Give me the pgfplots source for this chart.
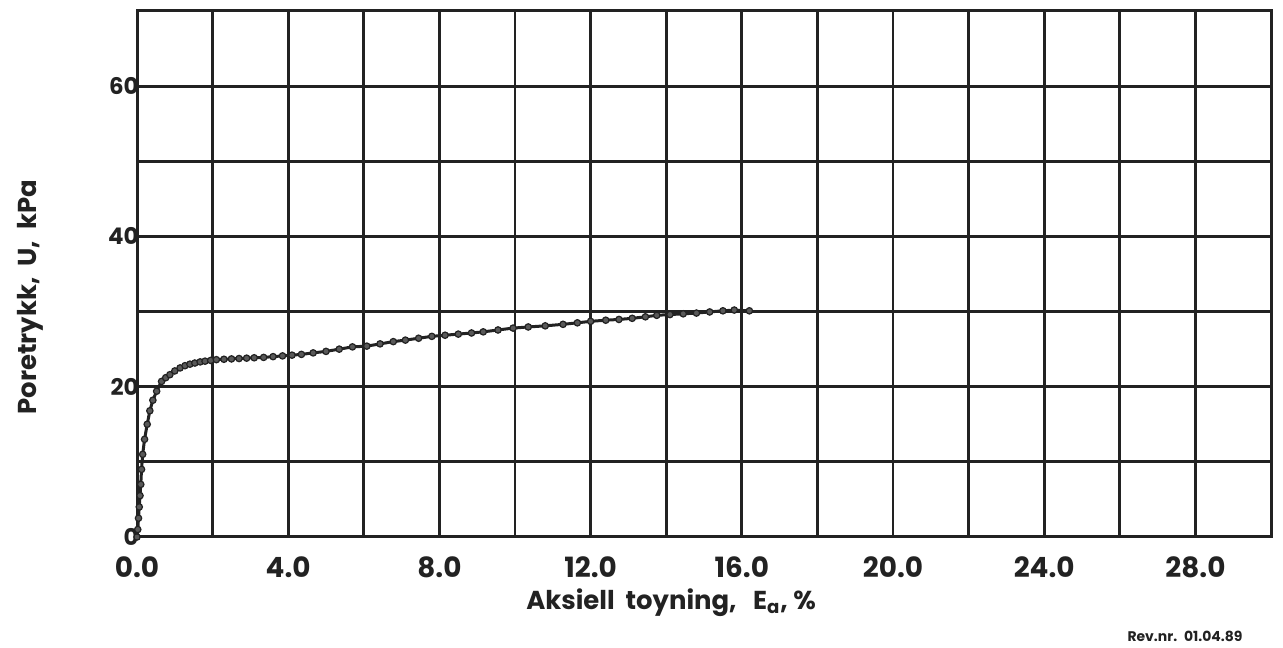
\documentclass[border=0pt]{standalone}
\usepackage{pgfplots}
\pgfplotsset{compat=1.18}
\usepackage{fontspec}
\setmainfont{Poppins}
\usetikzlibrary{calc}
\definecolor{ink}{HTML}{222222}
\begin{document}
\begin{tikzpicture}
\begin{axis}[
  name=ax,
  scale only axis,
  width=567bp, height=263bp,
  xmin=0, xmax=30, ymin=0, ymax=70,
  axis line style={ink, line width=1.5bp},
  grid=major,
  grid style={ink, line width=1.4bp},
  xtick={0,2,...,30},
  xticklabels={0.0,,4.0,,8.0,,12.0,,16.0,,20.0,,24.0,,28.0,},
  ytick={0,10,...,70},
  yticklabels={0,,20,,40,,60,,},
  major tick length=0pt,
  tick style={draw=none},
  xticklabel style={font=\fontsize{14}{14}\selectfont\bfseries, text=ink, anchor=north, yshift=-6.5bp},
  yticklabel style={font=\fontsize{11.5}{12}\selectfont\bfseries, text=ink, anchor=east, xshift=1.5bp, inner sep=0.5bp},
  xlabel={Aksiell \ toyning, \ \ E\textsubscript{a}, \%},
  xlabel style={font=\fontsize{13}{13}\selectfont\bfseries, text=ink, at={(axis description cs:0.471,-0.125)}, anchor=center},
  ylabel={Poretrykk, \ U, \ kPa},
  ylabel style={font=\fontsize{13}{13}\selectfont\bfseries, text=ink, at={(axis description cs:-0.0944,0.456)}, anchor=center},
  clip=false,
]
\addplot[ink, line width=1.5bp, mark=*, mark size=1.6bp, mark options={fill=gray!70!black, draw=ink, line width=0.6bp}] coordinates {
(0,0)(0.02,1)(0.04,2.5)(0.06,4)(0.08,5.5)(0.1,7)(0.12,9)(0.15,11)(0.2,13)(0.27,15)(0.34,16.8)(0.42,18.2)(0.52,19.4)(0.65,20.7)(0.76,21.2)(0.87,21.6)(1.0,22.1)(1.14,22.5)(1.27,22.8)(1.4,23.0)(1.53,23.15)(1.67,23.3)(1.8,23.4)(1.95,23.5)(2.1,23.6)(2.3,23.65)(2.5,23.7)(2.7,23.75)(2.9,23.8)(3.1,23.85)(3.35,23.9)(3.6,24.0)(3.85,24.1)(4.1,24.2)(4.35,24.3)(4.66,24.5)(5.0,24.7)(5.35,25.0)(5.7,25.3)(6.08,25.4)(6.43,25.7)(6.78,26.0)(7.1,26.2)(7.45,26.45)(7.8,26.7)(8.15,26.85)(8.5,27.0)(8.85,27.15)(9.16,27.3)(9.55,27.55)(9.95,27.8)(10.35,27.95)(10.8,28.1)(11.27,28.3)(11.65,28.5)(12.0,28.7)(12.4,28.85)(12.75,28.95)(13.1,29.1)(13.45,29.3)(13.75,29.5)(14.1,29.6)(14.45,29.7)(14.8,29.8)(15.15,29.95)(15.5,30.1)(15.8,30.2)(16.2,30.1)
};
\end{axis}
\node[font=\fontsize{7}{8}\selectfont\bfseries, text=ink, anchor=center] at ($(ax.south east)+(-43bp,-49.5bp)$) {Rev.nr. \ 01.04.89};
\path[use as bounding box] ($(ax.south west)+(-68.5bp,-50.5bp)$) rectangle ($(ax.north east)+(6bp,5.5bp)$);
\end{tikzpicture}
\end{document}
